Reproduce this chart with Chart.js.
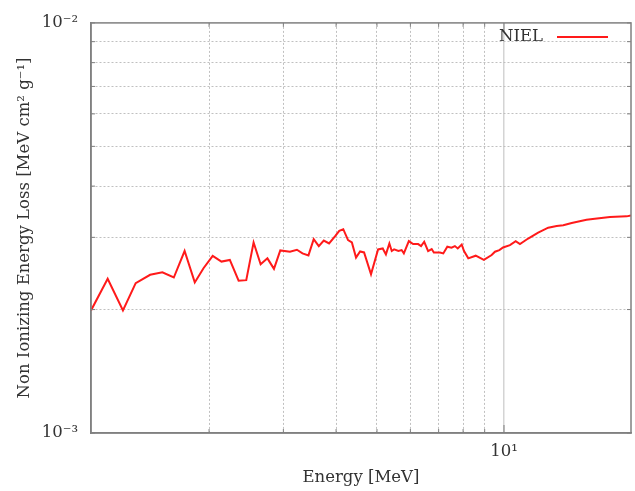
<!DOCTYPE html>
<html>
<head>
<meta charset="utf-8">
<script src="https://cdn.jsdelivr.net/npm/chart.js@4.4.1/dist/chart.umd.min.js"></script>
<style>
  html, body { margin: 0; padding: 0; background: #fff; }
</style>
</head>
<body>
<canvas id="nielChart" width="635" height="491"></canvas>
<script>
// energy in MeV, NIEL in MeV cm2 g-1
const energy = [1.05, 1.15, 1.25, 1.34, 1.45, 1.55, 1.65, 1.75, 1.85, 1.94,
    2.04, 2.14, 2.24, 2.35, 2.45, 2.55, 2.65, 2.75, 2.85, 2.95,
    3.11, 3.23, 3.33, 3.44, 3.54, 3.64, 3.74, 3.85, 3.98, 4.07,
    4.16, 4.27, 4.36, 4.46, 4.56, 4.66, 4.84, 5.03, 5.16, 5.25,
    5.35, 5.42, 5.49, 5.62, 5.72, 5.79, 5.95, 6.09, 6.26, 6.36,
    6.47, 6.61, 6.74, 6.82, 7.05, 7.18, 7.34, 7.51, 7.65, 7.77,
    7.94, 8.04, 8.23, 8.57, 8.96, 9.35, 9.52, 9.75, 9.95, 10.33,
    10.66, 10.91, 11.41, 12.05, 12.73, 13.33, 13.82, 14.47, 15.69, 16.42,
    17.83, 19.53, 20];
const niel = [1.99, 2.377, 1.99, 2.32, 2.431, 2.466, 2.394, 2.778, 2.329, 2.522,
    2.702, 2.618, 2.642, 2.351, 2.359, 2.914, 2.578, 2.666, 2.513, 2.787,
    2.767, 2.798, 2.741, 2.711, 2.970, 2.856, 2.947, 2.898, 3.020, 3.110,
    3.140, 2.953, 2.914, 2.677, 2.772, 2.756, 2.439, 2.803, 2.818, 2.726,
    2.898, 2.778, 2.803, 2.778, 2.793, 2.741, 2.937, 2.888, 2.888, 2.856,
    2.926, 2.778, 2.809, 2.756, 2.756, 2.741, 2.846, 2.830, 2.856, 2.818,
    2.882, 2.778, 2.666, 2.706, 2.642, 2.716, 2.767, 2.793, 2.834, 2.872,
    2.937, 2.888, 2.980, 3.081, 3.167, 3.197, 3.210, 3.251, 3.311, 3.330,
    3.362, 3.375, 3.394].map(v => v * 1e-3);

const xTicks = [2, 3, 4, 5, 6, 7, 8, 9, 10];
const xLabels = { 10: "10\u00B9" };
const yTicks = [1e-3, 2e-3, 3e-3, 4e-3, 5e-3, 6e-3, 7e-3, 8e-3, 9e-3, 1e-2];
const yLabels = ["10\u207B\u00B3", "", "", "", "", "", "", "", "", "10\u207B\u00B2"];

const serif = "'DejaVu Serif', 'Liberation Serif', serif";
const textColor = "#333";
const fontSize = 16.5;

// gnuplot-like frame with inward ticks and the legend in the top right corner
const framePlugin = {
    id: "frame",
    afterDraw(chart) {
        const { ctx, chartArea: a, scales } = chart;
        ctx.save();
        ctx.strokeStyle = "#808080";
        ctx.lineWidth = 1.5;
        ctx.strokeRect(a.left, a.top, a.right - a.left, a.bottom - a.top);

        ctx.lineWidth = 1;
        ctx.beginPath();
        scales.x.ticks.forEach(t => {
            const px = scales.x.getPixelForValue(t.value);
            const len = t.value === 10 ? 8 : 4;
            ctx.moveTo(px, a.bottom); ctx.lineTo(px, a.bottom - len);
            ctx.moveTo(px, a.top); ctx.lineTo(px, a.top + len);
        });
        scales.y.ticks.forEach(t => {
            const py = scales.y.getPixelForValue(t.value);
            ctx.moveTo(a.left, py); ctx.lineTo(a.left + 4, py);
            ctx.moveTo(a.right, py); ctx.lineTo(a.right - 4, py);
        });
        ctx.stroke();

        const ds = chart.data.datasets[0];
        ctx.font = fontSize + "px " + serif;
        ctx.fillStyle = textColor;
        ctx.textAlign = "right";
        ctx.textBaseline = "middle";
        ctx.fillText(ds.label, a.right - 88, a.top + 14);
        ctx.strokeStyle = ds.borderColor;
        ctx.lineWidth = 2;
        ctx.beginPath();
        ctx.moveTo(a.right - 74, a.top + 14);
        ctx.lineTo(a.right - 23, a.top + 14);
        ctx.stroke();
        ctx.restore();
    }
};

const context = document.getElementById("nielChart").getContext("2d");
const chart = new Chart(context, {
    type: "line",
    data: {
        datasets: [
            {
                label: "NIEL",
                data: energy.map((e, i) => ({ x: e, y: niel[i] })),
                borderColor: "#ff1a1a",
                backgroundColor: "rgba(0,0,0,0)",
                borderWidth: 2,
                pointRadius: 0,
                tension: 0
            }
        ]
    },
    options: {
        responsive: false,
        animation: false,
        layout: { padding: { top: 19, right: 4, bottom: 0, left: 0 } },
        plugins: {
            legend: { display: false },
            tooltip: { enabled: false }
        },
        scales: {
            x: {
                type: "logarithmic",
                min: 1.05,
                max: 20,
                afterBuildTicks: scale => { scale.ticks = xTicks.map(v => ({ value: v })); },
                afterFit: scale => { scale.height = 58; },
                ticks: {
                    autoSkip: false,
                    maxRotation: 0,
                    padding: 9,
                    color: textColor,
                    font: { family: serif, size: fontSize },
                    callback: v => xLabels[v] || ""
                },
                grid: {
                    drawTicks: false,
                    color: ctx => ctx.tick && ctx.tick.value === 10 ? "#d4d4d4" : "#c0c0c0",
                    lineWidth: ctx => ctx.tick && ctx.tick.value === 10 ? 1.5 : 1
                },
                border: {
                    color: "#808080",
                    width: 1.5,
                    dash: ctx => ctx.tick && ctx.tick.value === 10 ? [] : [2, 2]
                },
                title: {
                    display: true,
                    text: "Energy [MeV]",
                    color: textColor,
                    font: { family: serif, size: fontSize },
                    padding: { top: 0, bottom: 3 }
                }
            },
            y: {
                type: "logarithmic",
                min: 1e-3,
                max: 1e-2,
                afterBuildTicks: scale => { scale.ticks = yTicks.map(v => ({ value: v })); },
                afterFit: scale => { scale.width = 91; },
                ticks: {
                    autoSkip: false,
                    padding: 13,
                    color: textColor,
                    font: { family: serif, size: fontSize },
                    callback: (v, i) => yLabels[i]
                },
                grid: {
                    drawTicks: false,
                    color: ctx => (ctx.index === 0 || ctx.index === yTicks.length - 1) ? "rgba(0,0,0,0)" : "#c0c0c0",
                    lineWidth: 1
                },
                border: {
                    color: "#808080",
                    width: 1.5,
                    dash: [2, 2]
                },
                title: {
                    display: true,
                    text: "Non Ionizing Energy Loss [MeV cm\u00B2 g\u207B\u00B9]",
                    color: textColor,
                    font: { family: serif, size: fontSize },
                    padding: { top: 15, bottom: 0 }
                }
            }
        }
    },
    plugins: [framePlugin]
});
</script>
</body>
</html>
